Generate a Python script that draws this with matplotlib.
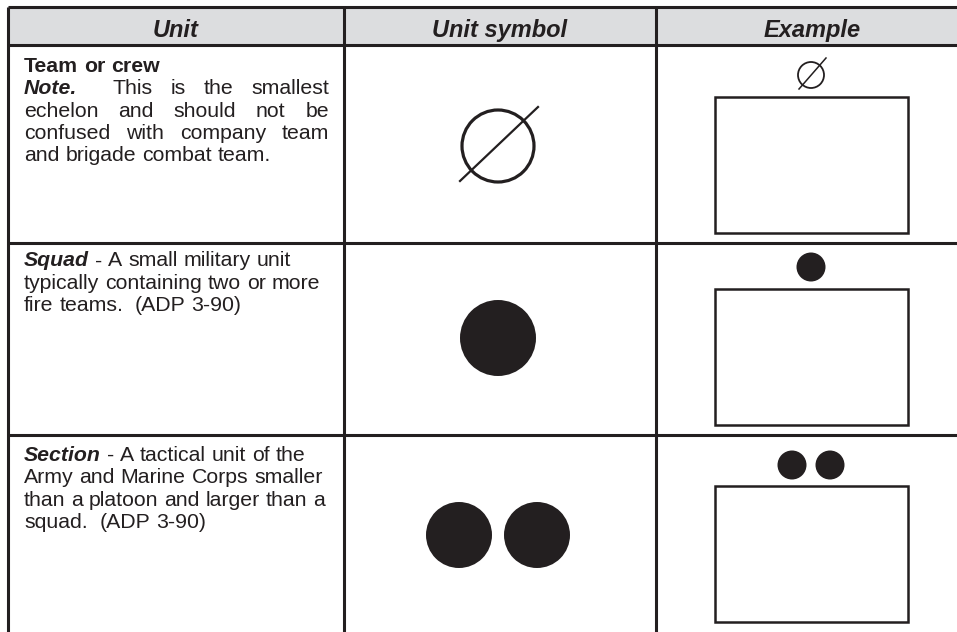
import re
import matplotlib.pyplot as plt
from matplotlib.patches import Circle, Rectangle

# 표 내용
headers = ['Unit', 'Unit symbol', 'Example']

team_lines = [
    [('Team or crew', 'b')],
    [('Note.', 'bi'), ('  This is the smallest', 'r')],
    [('echelon and should not be', 'r')],
    [('confused with company team', 'r')],
    [('and brigade combat team.', 'r')],
]
squad_lines = [
    [('Squad', 'bi'), (' - A small military unit', 'r')],
    [('typically containing two or more', 'r')],
    [('fire teams.  (ADP 3-90)', 'r')],
]
section_lines = [
    [('Section', 'bi'), (' - A tactical unit of the', 'r')],
    [('Army and Marine Corps smaller', 'r')],
    [('than a platoon and larger than a', 'r')],
    [('squad.  (ADP 3-90)', 'r')],
]
unit_texts = [team_lines, squad_lines, section_lines]
justified = [[False, True, True, True, False], [False] * 3, [False] * 4]
dot_count = [0, 1, 2]   # 0 이면 사선 원 (team)

ink = '#231f20'
header_bg = '#dcdddf'
fs = 15.3
styles = {'r': ('normal', 'normal'), 'b': ('bold', 'normal'), 'bi': ('bold', 'italic')}

fig = plt.figure(figsize=(9.57, 6.32), dpi=100)
ax = fig.add_axes([0, 0, 1, 1])
ax.set_xlim(0, 957)
ax.set_ylim(632, 0)
ax.axis('off')
renderer = fig.canvas.get_renderer()


def put(x, y, s, st):
    w, sl = styles[st]
    return ax.text(x, y, s, fontsize=fs, family='Liberation Sans', fontweight=w,
                   fontstyle=sl, color=ink, ha='left', va='baseline')


def width(s, st):
    t = put(0, -100, s, st)
    w = t.get_window_extent(renderer).width
    t.remove()
    return w


space_w = {st: width('n n', st) - width('nn', st) for st in styles}


def draw_line(x0, x1, y, runs, justify):
    # 단어/공백 토큰으로 나누기
    toks = []
    for text, st in runs:
        for m in re.finditer(r'\S+| +', text):
            toks.append((m.group(), st))
    words_w = sum(width(t, st) for t, st in toks if not t.startswith(' '))
    nsp = sum(len(t) for t, st in toks if t.startswith(' '))
    sp_w = sum(space_w[st] * len(t) for t, st in toks if t.startswith(' '))
    extra = 0
    if justify and nsp:
        extra = (x1 - x0 - words_w - sp_w) / nsp
    x = x0
    for t, st in toks:
        if t.startswith(' '):
            x += len(t) * (space_w[st] + extra)
        else:
            put(x, y, t, st)
            x += width(t, st)


# 헤더 배경
ax.add_patch(Rectangle((8, 7), 960, 38, facecolor=header_bg, edgecolor='none'))
for cx, h in zip([175.5, 500, 812], headers):
    ax.text(cx, 37, h, fontsize=17, family='Liberation Sans', fontweight='bold',
            fontstyle='italic', color=ink, ha='center', va='baseline')

# 격자선
lw = 2.2
for yy in [7, 45, 243, 435]:
    ax.plot([8, 957], [yy, yy], color=ink, lw=lw, solid_capstyle='butt')
for xx in [8, 343.5, 656]:
    ax.plot([xx, xx], [7, 632], color=ink, lw=lw, solid_capstyle='butt')

# 텍스트
text_top = [72, 266.5, 461]
for lines, jus, y0 in zip(unit_texts, justified, text_top):
    for i, (runs, j) in enumerate(zip(lines, jus)):
        draw_line(24, 329, y0 + i * 22.3, runs, j)

# 심볼 + 예시
sym_y = [146, 338, 535]
sym_r = [36, 38, 33]
ex_top = [97, 289, 486]
ex_y = [75, 267, 465]
for n, sy, sr, et, ey in zip(dot_count, sym_y, sym_r, ex_top, ex_y):
    if n == 0:
        ax.add_patch(Circle((498, sy), sr, facecolor='none', edgecolor=ink, lw=2.3))
        ax.plot([460, 538], [sy + 35, sy - 39], color=ink, lw=1.6)
        ax.add_patch(Circle((811, ey), 13, facecolor='none', edgecolor=ink, lw=1.3))
        ax.plot([799, 826], [ey + 14, ey - 17], color=ink, lw=1.1)
    else:
        offs = [0] if n == 1 else [-39, 39]
        for o in offs:
            ax.add_patch(Circle((498 + o, sy), sr, facecolor=ink, edgecolor='none'))
        eoffs = [0] if n == 1 else [-19, 19]
        for o in eoffs:
            ax.add_patch(Circle((811 + o, ey), 14.5, facecolor=ink, edgecolor='none'))
    ax.add_patch(Rectangle((715, et), 193, 136, facecolor='none', edgecolor=ink, lw=1.8))

fig.savefig('out.png', dpi=100, facecolor='white')
